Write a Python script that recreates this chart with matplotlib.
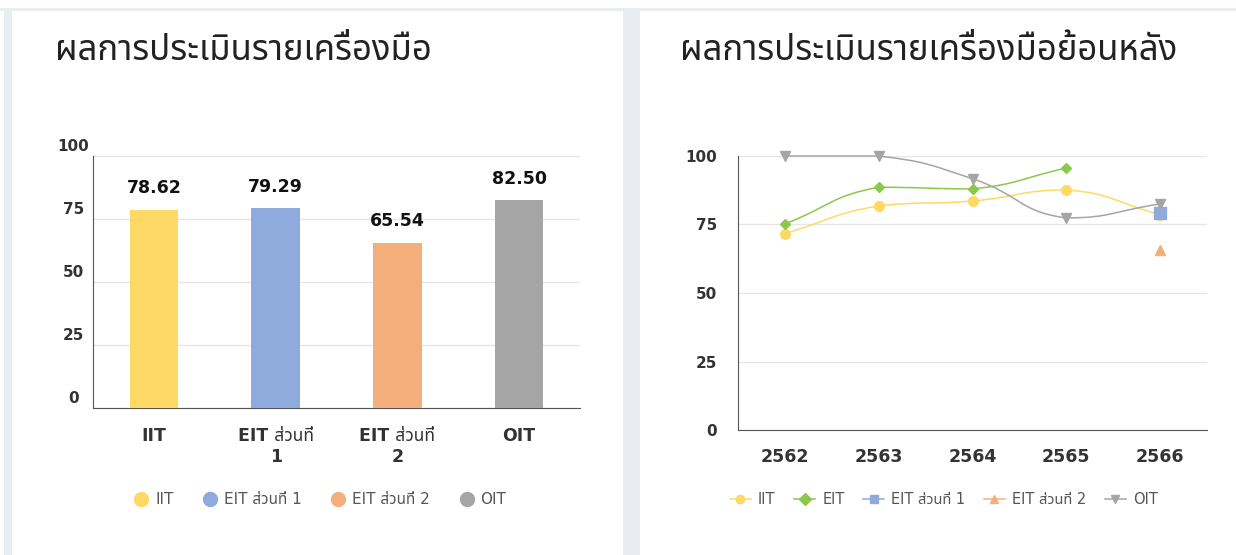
import matplotlib
matplotlib.use("Agg")
import matplotlib.pyplot as plt
from matplotlib import font_manager
from matplotlib.path import Path
from matplotlib.patches import PathPatch, Rectangle
from matplotlib.lines import Line2D
import matplotlib.transforms as mtransforms
import numpy as np

# ---------------- data ----------------
bar_categories = ["IIT", "EIT ส่วนที่\n1", "EIT ส่วนที่\n2", "OIT"]
bar_legend_labels = ["IIT", "EIT ส่วนที่ 1", "EIT ส่วนที่ 2", "OIT"]
bar_values = [78.62, 79.29, 65.54, 82.50]
bar_colors = ["#ffd966", "#8faadc", "#f4ae7b", "#a5a5a5"]

years = ["2562", "2563", "2564", "2565", "2566"]
iit_trend = [71.7, 81.8, 83.6, 87.6, 78.62]
eit_trend = [75.2, 88.6, 88.0, 95.6, None]
eit1_trend = [None, None, None, None, 79.29]
eit2_trend = [None, None, None, None, 65.54]
oit_trend = [100.0, 100.0, 91.7, 77.4, 82.50]
line_names = ["IIT", "EIT", "EIT ส่วนที่ 1", "EIT ส่วนที่ 2", "OIT"]
line_colors = ["#ffd966", "#8cc84b", "#8faadc", "#f4ae7b", "#a5a5a5"]
line_markers = ["o", "D", "s", "^", "v"]

y_ticks = [0, 25, 50, 75, 100]
title_left = "ผลการประเมินรายเครื่องมือ"
title_right = "ผลการประเมินรายเครื่องมือย้อนหลัง"

# ---------------- fonts ----------------
def find_thai_font():
    try:
        from fontTools.ttLib import TTFont
    except Exception:
        return None
    cands = []
    for f in font_manager.fontManager.ttflist:
        try:
            tt = TTFont(f.fname, fontNumber=0, lazy=True)
            cmap = tt.getBestCmap()
            if cmap and ord("ก") in cmap and ord("ม") in cmap:
                cands.append(f.name)
        except Exception:
            pass
    if not cands:
        return None
    pref = ["Noto Sans Thai", "Noto Sans Thai Looped", "Loma", "Garuda", "Sarabun",
            "Kanit", "Prompt", "Tlwg Typo", "Norasi"]
    for p in pref:
        if p in cands:
            return p
    return cands[0]

thai = find_thai_font()
LATIN = "DejaVu Sans"
fam = [LATIN] + ([thai] if thai else [])
title_fam = ([thai] if thai else []) + [LATIN]
plt.rcParams["font.family"] = fam

W, H = 1236, 555
fig = plt.figure(figsize=(W / 100, H / 100), dpi=100)
fig.patch.set_facecolor("white")

def px_rect(x0, y0, x1, y1, color):
    fig.add_artist(Rectangle((x0 / W, 1 - y1 / H), (x1 - x0) / W, (y1 - y0) / H,
                             transform=fig.transFigure, facecolor=color,
                             edgecolor="none", zorder=-10))

px_rect(0, 8, W, 11, "#e9ecf0")
px_rect(4, 11, 12, H, "#e9ecf0")
px_rect(623, 11, 640, H, "#e9ecf0")

def add_axes_px(x0, y0, x1, y1):
    return fig.add_axes([x0 / W, 1 - y1 / H, (x1 - x0) / W, (y1 - y0) / H])

tick_color = "#333333"
grid_color = "#e6e6e6"
spine_color = "#555555"

# ---------------- left: bar chart ----------------
ax1 = add_axes_px(93, 156, 580, 408)
x = np.arange(len(bar_values))
bars = ax1.bar(x, bar_values, width=0.4, color=bar_colors, zorder=3)
ax1.set_xlim(-0.5, len(bar_values) - 0.5)
ax1.set_ylim(0, 100)
ax1.set_yticks(y_ticks)
ax1.set_yticklabels([str(v) for v in y_ticks])
ax1.set_xticks(x)
ax1.set_xticklabels(bar_categories, fontsize=12.5, fontweight="bold", color=tick_color,
                    linespacing=1.15)
ax1.tick_params(axis="x", length=0, pad=14)
ax1.tick_params(axis="y", length=0, pad=14, labelsize=11, labelcolor=tick_color)
for lab in ax1.get_yticklabels():
    lab.set_fontweight("bold")
    lab.set_horizontalalignment("center")
    lab.set_transform(lab.get_transform() +
                      mtransforms.ScaledTranslation(0, 11 / 100, fig.dpi_scale_trans))
ax1.grid(axis="y", color=grid_color, linewidth=1, zorder=0)
for s in ["top", "right"]:
    ax1.spines[s].set_visible(False)
ax1.spines["left"].set_color(spine_color)
ax1.spines["bottom"].set_color(spine_color)
for xi, v in zip(x, bar_values):
    ax1.annotate(f"{v:.2f}", (xi, v), xytext=(0, 9), textcoords="offset points",
                 ha="center", va="bottom", fontsize=12.5, fontweight="bold", color="#111111")

handles1 = [Line2D([], [], linestyle="none", marker="o", markersize=10,
                   markerfacecolor=c, markeredgecolor=c) for c in bar_colors]
fig.legend(handles1, bar_legend_labels, loc="center", bbox_to_anchor=(320 / W, 1 - 500 / H),
           ncol=4, frameon=False, fontsize=11, labelcolor="#555555",
           handlelength=1.0, handletextpad=0.4, columnspacing=1.9)

fig.text(55 / W, 1 - 51 / H, title_left, fontsize=25, color="#222222",
         family=title_fam, ha="left", va="center")

# ---------------- right: line chart ----------------
ax2 = add_axes_px(738, 156, 1207, 430)
xi = np.arange(len(years))
ax2.set_xlim(-0.5, len(years) - 0.5)
ax2.set_ylim(0, 100)
ax2.set_yticks(y_ticks)
ax2.set_yticklabels([str(v) for v in y_ticks])
ax2.set_xticks(xi)
ax2.set_xticklabels(years, fontsize=12.5, fontweight="bold", color=tick_color)
ax2.tick_params(axis="x", length=0, pad=13)
ax2.tick_params(axis="y", length=0, pad=15, labelsize=11, labelcolor=tick_color)
for lab in ax2.get_yticklabels():
    lab.set_fontweight("bold")
ax2.grid(axis="y", color=grid_color, linewidth=1, zorder=0)
for s in ["top", "right"]:
    ax2.spines[s].set_visible(False)
ax2.spines["left"].set_color(spine_color)
ax2.spines["bottom"].set_color(spine_color)

fig.canvas.draw()

def smooth_curve(ax, xs, ys, color, smooth=0.5):
    pts = ax.transData.transform(np.column_stack([xs, ys]))
    n = len(pts)
    if n < 2:
        return
    verts = [tuple(pts[0])]
    codes = [Path.MOVETO]
    cps_out, cps_in = [], []
    for i in range(n):
        px, py = pts[i]
        prv = pts[i - 1] if i > 0 else pts[i]
        nxt = pts[i + 1] if i < n - 1 else pts[i]
        vx, vy = nxt[0] - prv[0], nxt[1] - prv[1]
        l0 = np.hypot(px - prv[0], py - prv[1])
        l1 = np.hypot(nxt[0] - px, nxt[1] - py)
        r = l1 / (l0 + l1) if (l0 + l1) > 0 else 0.5
        c_in = np.array([px - vx * smooth * (1 - r), py - vy * smooth * (1 - r)])
        c_out = np.array([px + vx * smooth * r, py + vy * smooth * r])
        c_out[0] = min(max(c_out[0], min(nxt[0], px)), max(nxt[0], px))
        c_out[1] = min(max(c_out[1], min(nxt[1], py)), max(nxt[1], py))
        c_in[0] = min(max(c_in[0], min(prv[0], px)), max(prv[0], px))
        c_in[1] = min(max(c_in[1], min(prv[1], py)), max(prv[1], py))
        cps_in.append(c_in)
        cps_out.append(c_out)
    for i in range(n - 1):
        verts += [tuple(cps_out[i]), tuple(cps_in[i + 1]), tuple(pts[i + 1])]
        codes += [Path.CURVE4] * 3
    data_verts = ax.transData.inverted().transform(np.array(verts))
    ax.add_patch(PathPatch(Path(data_verts, codes), facecolor="none", edgecolor=color,
                           linewidth=1.1, zorder=3, clip_on=False))

series = [iit_trend, eit_trend, eit1_trend, eit2_trend, oit_trend]
msizes = [7, 5, 8, 7, 7]
for vals, col, mk, ms in zip(series, line_colors, line_markers, msizes):
    xs = [i for i, v in enumerate(vals) if v is not None]
    ys = [v for v in vals if v is not None]
    smooth_curve(ax2, xs, ys, col)
    ax2.plot(xs, ys, linestyle="none", marker=mk, markersize=ms, color=col,
             markeredgecolor=col, zorder=4, clip_on=False)

handles2 = [Line2D([], [], color=c, marker=m, markersize=6, linewidth=1.1)
            for c, m in zip(line_colors, line_markers)]
fig.legend(handles2, line_names, loc="center", bbox_to_anchor=(944 / W, 1 - 500 / H),
           ncol=5, frameon=False, fontsize=10.5, labelcolor="#555555",
           handlelength=1.4, handletextpad=0.5, columnspacing=1.3)

fig.text(680 / W, 1 - 51 / H, title_right, fontsize=25, color="#222222",
         family=title_fam, ha="left", va="center")

fig.savefig("out.png", dpi=100, facecolor="white")
